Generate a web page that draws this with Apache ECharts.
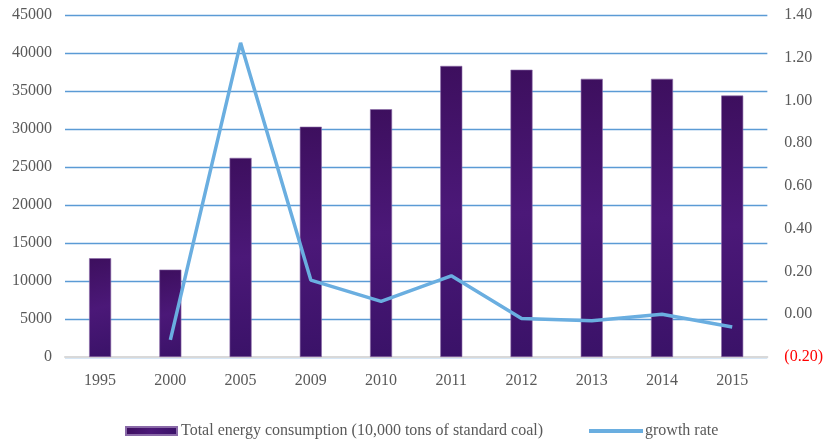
<!DOCTYPE html>
<html>
<head>
<meta charset="utf-8">
<script src="https://cdn.jsdelivr.net/npm/echarts@6/dist/echarts.min.js"></script>
<style>
  html, body { margin: 0; padding: 0; background: #fff; }
  #chart { width: 826px; height: 442px; }
</style>
</head>
<body>
<div id="chart"></div>
<script>
// Yearly energy use and its growth rate
const years = ['1995', '2000', '2005', '2009', '2010', '2011', '2012', '2013', '2014', '2015'];
const consumption = [13000, 11500, 26200, 30300, 32600, 38300, 37800, 36600, 36600, 34400];
const growthRate = [null, -0.12, 1.27, 0.16, 0.06, 0.18, -0.02, -0.03, 0.00, -0.06];

const barName = 'Total energy consumption (10,000 tons of standard coal)';
const lineName = 'growth rate';

const labelFont = { fontFamily: 'Liberation Serif', fontSize: 16, color: '#595959' };

const chart = echarts.init(document.getElementById('chart'), null, { renderer: 'canvas' });

chart.setOption({
  animation: false,
  backgroundColor: '#ffffff',
  textStyle: { fontFamily: 'Liberation Serif' },
  grid: { left: 65, right: 58, top: 15, bottom: 85, containLabel: false },
  legend: [
    {
      data: [{ name: barName, icon: 'rect' }],
      left: 120, top: 418,
      itemWidth: 51, itemHeight: 8,
      textStyle: Object.assign({}, labelFont, { padding: [0, 0, 0, -1] })
    },
    {
      data: [{ name: lineName, icon: 'rect' }],
      left: 584, top: 418,
      itemWidth: 54, itemHeight: 4,
      textStyle: Object.assign({}, labelFont, { padding: [0, 0, 0, -3] })
    }
  ],
  xAxis: {
    type: 'category',
    data: years,
    axisLine: { lineStyle: { color: '#d9d9d9', width: 2 } },
    axisTick: { show: false },
    axisLabel: Object.assign({ margin: 16 }, labelFont)
  },
  yAxis: [
    {
      type: 'value',
      min: 0, max: 45000, interval: 5000,
      axisLine: { show: false },
      axisTick: { show: false },
      axisLabel: Object.assign({ margin: 13, formatter: function (v) { return String(v); } }, labelFont),
      splitLine: { lineStyle: { color: '#5b9bd5', width: 1.3 } }
    },
    {
      type: 'value',
      min: -0.2, max: 1.4, interval: 0.2,
      axisLine: { show: false },
      axisTick: { show: false },
      splitLine: { show: false },
      axisLabel: Object.assign({ margin: 17 }, labelFont, {
        formatter: function (v) {
          if (v < -1e-9) return '{neg|(' + Math.abs(v).toFixed(2) + ')}';
          return Math.abs(v).toFixed(2);
        },
        rich: { neg: { color: '#ff0000', fontFamily: 'Liberation Serif', fontSize: 16 } }
      })
    }
  ],
  series: [
    {
      name: barName,
      type: 'bar',
      yAxisIndex: 0,
      data: consumption,
      barWidth: 22,
      itemStyle: {
        color: new echarts.graphic.LinearGradient(0, 0, 1, 1, [
          { offset: 0, color: '#3d0f5e' },
          { offset: 0.5, color: '#4b1878' },
          { offset: 1, color: '#3a1268' }
        ]),
        borderColor: '#8a6aa8',
        borderWidth: 0.6
      },
      z: 2
    },
    {
      name: lineName,
      type: 'line',
      yAxisIndex: 1,
      data: growthRate,
      showSymbol: false,
      symbol: 'none',
      connectNulls: false,
      lineStyle: { color: '#6aaee0', width: 3.5 },
      itemStyle: { color: '#6aaee0' },
      z: 3
    }
  ]
});
</script>
</body>
</html>
